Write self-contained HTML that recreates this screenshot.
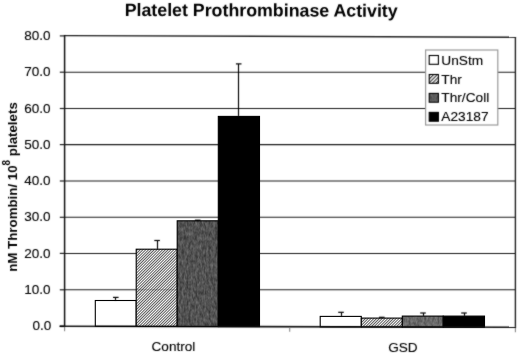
<!DOCTYPE html><html><head><meta charset="utf-8"><style>html,body{margin:0;padding:0;background:#fff;width:520px;height:353px;overflow:hidden}svg{display:block}text{font-family:"Liberation Sans",sans-serif;stroke:#000;stroke-width:0.12px}text.b{font-weight:bold;stroke:none}</style></head><body>
<svg width="520" height="353" viewBox="0 0 520 353">
<defs>
<pattern id="hatch" patternUnits="userSpaceOnUse" width="1.98" height="1.98" patternTransform="rotate(45)"><rect width="1.98" height="1.98" fill="#fff"/><rect width="0.72" height="1.98" fill="#1a1a1a"/></pattern>
<pattern id="hatchL" patternUnits="userSpaceOnUse" width="2.6" height="2.6" patternTransform="rotate(45)"><rect width="2.6" height="2.6" fill="#fff"/><rect width="1.2" height="2.6" fill="#444"/></pattern>
<filter id="nz1" x="0" y="0" width="1" height="1" color-interpolation-filters="sRGB"><feTurbulence type="fractalNoise" baseFrequency="0.45 0.22" numOctaves="2" seed="3" result="t"/><feColorMatrix in="t" type="matrix" values="0.32 0 0 0 0.16  0.32 0 0 0 0.16  0.32 0 0 0 0.16  0 0 0 0 1"/><feComposite in2="SourceGraphic" operator="in"/></filter>
<filter id="nz2" x="0" y="0" width="1" height="1" color-interpolation-filters="sRGB"><feTurbulence type="fractalNoise" baseFrequency="0.45 0.22" numOctaves="2" seed="5" result="t"/><feColorMatrix in="t" type="matrix" values="0.32 0 0 0 0.245  0.32 0 0 0 0.245  0.32 0 0 0 0.245  0 0 0 0 1"/><feComposite in2="SourceGraphic" operator="in"/></filter>
<filter id="nz3" x="0" y="0" width="1" height="1" color-interpolation-filters="sRGB"><feTurbulence type="fractalNoise" baseFrequency="0.45 0.22" numOctaves="2" seed="7" result="t"/><feColorMatrix in="t" type="matrix" values="0.32 0 0 0 0.2  0.32 0 0 0 0.2  0.32 0 0 0 0.2  0 0 0 0 1"/><feComposite in2="SourceGraphic" operator="in"/></filter>
<filter id="bl" x="0" y="0" width="520" height="353" filterUnits="userSpaceOnUse" color-interpolation-filters="sRGB"><feConvolveMatrix order="3" kernelMatrix="1 2 1 2 20 2 1 2 1" divisor="32" edgeMode="duplicate" preserveAlpha="false"/></filter>
</defs>
<rect width="520" height="353" fill="#fff"/>
<g filter="url(#bl)">
<rect width="520" height="353" fill="#fff"/>
<text class="b" transform="rotate(0.18 125 10)" x="261.2" y="15.9" font-size="17.8" text-anchor="middle" fill="#000">Platelet Prothrombinase Activity</text>
<line x1="64.6" y1="72.2" x2="515.4" y2="72.2" stroke="#1a1a1a" stroke-width="1.05"/>
<line x1="64.6" y1="108.5" x2="515.4" y2="108.5" stroke="#1a1a1a" stroke-width="1.05"/>
<line x1="64.6" y1="144.6" x2="515.4" y2="144.6" stroke="#1a1a1a" stroke-width="1.05"/>
<line x1="64.6" y1="181.0" x2="515.4" y2="181.0" stroke="#1a1a1a" stroke-width="1.05"/>
<line x1="64.6" y1="217.3" x2="515.4" y2="217.3" stroke="#1a1a1a" stroke-width="1.05"/>
<line x1="64.6" y1="253.4" x2="515.4" y2="253.4" stroke="#1a1a1a" stroke-width="1.05"/>
<line x1="64.6" y1="289.8" x2="515.4" y2="289.8" stroke="#1a1a1a" stroke-width="1.05"/>
<path d="M63.89999999999999 34.90L516.1 36.50L516.1 37.90L63.89999999999999 36.30Z" fill="#222"/>
<line x1="515.4" y1="37.2" x2="515.4" y2="327.3" stroke="#222" stroke-width="1.4"/>
<line x1="59.8" y1="35.9" x2="64.6" y2="35.9" stroke="#222" stroke-width="1.2"/>
<text x="50.6" y="40.0" font-size="13.5" text-anchor="end" fill="#000">80.0</text>
<line x1="59.8" y1="72.2" x2="64.6" y2="72.2" stroke="#222" stroke-width="1.2"/>
<text x="50.6" y="76.3" font-size="13.5" text-anchor="end" fill="#000">70.0</text>
<line x1="59.8" y1="108.5" x2="64.6" y2="108.5" stroke="#222" stroke-width="1.2"/>
<text x="50.6" y="112.6" font-size="13.5" text-anchor="end" fill="#000">60.0</text>
<line x1="59.8" y1="144.6" x2="64.6" y2="144.6" stroke="#222" stroke-width="1.2"/>
<text x="50.6" y="148.7" font-size="13.5" text-anchor="end" fill="#000">50.0</text>
<line x1="59.8" y1="181.0" x2="64.6" y2="181.0" stroke="#222" stroke-width="1.2"/>
<text x="50.6" y="185.1" font-size="13.5" text-anchor="end" fill="#000">40.0</text>
<line x1="59.8" y1="217.3" x2="64.6" y2="217.3" stroke="#222" stroke-width="1.2"/>
<text x="50.6" y="221.4" font-size="13.5" text-anchor="end" fill="#000">30.0</text>
<line x1="59.8" y1="253.4" x2="64.6" y2="253.4" stroke="#222" stroke-width="1.2"/>
<text x="50.6" y="257.5" font-size="13.5" text-anchor="end" fill="#000">20.0</text>
<line x1="59.8" y1="289.8" x2="64.6" y2="289.8" stroke="#222" stroke-width="1.2"/>
<text x="50.6" y="293.9" font-size="13.5" text-anchor="end" fill="#000">10.0</text>
<line x1="59.8" y1="326.2" x2="64.6" y2="326.2" stroke="#222" stroke-width="1.2"/>
<text x="51.4" y="330.3" font-size="13.5" text-anchor="end" fill="#000">0.0</text>
<text x="151.5" y="350.9" font-size="13.6" fill="#000">Control</text>
<text x="388.2" y="351.9" font-size="13.6" fill="#000">GSD</text>
<text class="b" transform="translate(17.1,187) rotate(-90)" font-size="13.3" text-anchor="middle" fill="#000">nM Thrombin/ 10<tspan font-size="10" dy="-7.2">8</tspan><tspan dy="7.2"> platelets</tspan></text>
</g>
<rect x="95.3" y="300.5" width="40.9" height="25.8" fill="#fff" stroke="#000" stroke-width="1.1"/>
<rect x="136.2" y="249.2" width="41.0" height="77.2" fill="url(#hatch)" stroke="#000" stroke-width="1.1"/>
<rect x="177.2" y="220.8" width="41.1" height="105.7" fill="#000" filter="url(#nz1)"/>
<rect x="177.2" y="220.8" width="41.1" height="105.7" fill="none" stroke="#000" stroke-width="1.1"/>
<rect x="218.3" y="116.4" width="41.2" height="210.2" fill="#000" stroke="#000" stroke-width="1.1"/>
<rect x="320.2" y="316.4" width="41.1" height="10.5" fill="#fff" stroke="#000" stroke-width="1.1"/>
<rect x="361.3" y="318.1" width="41.0" height="8.9" fill="url(#hatch)" stroke="#000" stroke-width="1.1"/>
<rect x="402.3" y="316.1" width="40.9" height="11.0" fill="#000" filter="url(#nz2)"/>
<rect x="402.3" y="316.1" width="40.9" height="11.0" fill="none" stroke="#000" stroke-width="1.1"/>
<rect x="443.2" y="316.1" width="41.3" height="11.1" fill="#000" stroke="#000" stroke-width="1.1"/>
<line x1="137" y1="289.8" x2="176.5" y2="289.8" stroke="#000" stroke-width="1" opacity="0.25"/>
<g filter="url(#bl)">
<line x1="115.5" y1="300.5" x2="115.5" y2="297.4" stroke="#000" stroke-width="1.15"/>
<line x1="113.0" y1="297.4" x2="118.6" y2="297.4" stroke="#000" stroke-width="1.2"/>
<line x1="157.5" y1="249.2" x2="157.5" y2="240.5" stroke="#000" stroke-width="1.15"/>
<line x1="154.29999999999998" y1="240.5" x2="159.9" y2="240.5" stroke="#000" stroke-width="1.2"/>
<line x1="197.5" y1="220.8" x2="197.5" y2="220.2" stroke="#000" stroke-width="1.15"/>
<line x1="194.89999999999998" y1="220.2" x2="200.5" y2="220.2" stroke="#000" stroke-width="1.2"/>
<line x1="238.5" y1="116.4" x2="238.5" y2="63.9" stroke="#000" stroke-width="1.15"/>
<line x1="235.89999999999998" y1="63.9" x2="241.5" y2="63.9" stroke="#000" stroke-width="1.2"/>
<line x1="341.5" y1="316.4" x2="341.5" y2="312.3" stroke="#000" stroke-width="1.15"/>
<line x1="338.2" y1="312.3" x2="343.8" y2="312.3" stroke="#000" stroke-width="1.2"/>
<line x1="381.5" y1="318.1" x2="381.5" y2="317.3" stroke="#000" stroke-width="1.15"/>
<line x1="379.0" y1="317.3" x2="384.6" y2="317.3" stroke="#000" stroke-width="1.2"/>
<line x1="423.5" y1="316.1" x2="423.5" y2="313.0" stroke="#000" stroke-width="1.15"/>
<line x1="420.2" y1="313.0" x2="425.8" y2="313.0" stroke="#000" stroke-width="1.2"/>
<line x1="464.5" y1="316.1" x2="464.5" y2="313.0" stroke="#000" stroke-width="1.15"/>
<line x1="461.2" y1="313.0" x2="466.8" y2="313.0" stroke="#000" stroke-width="1.2"/>
<line x1="64.6" y1="35.6" x2="64.6" y2="326.2" stroke="#111" stroke-width="1.5"/>
<path d="M59.599999999999994 325.40L516.1 326.50L516.1 328.10L59.599999999999994 327.00Z" fill="#111"/>
<line x1="64.6" y1="327.0" x2="64.6" y2="331.2" stroke="#888" stroke-width="1.1"/>
<line x1="289.7" y1="327.5492679680568" x2="289.7" y2="331.7492679680568" stroke="#888" stroke-width="1.1"/>
<line x1="515.4" y1="328.1" x2="515.4" y2="332.3" stroke="#888" stroke-width="1.1"/>
<rect x="425.6" y="50" width="72.2" height="75" fill="#fff" stroke="#9a9a9a" stroke-width="1.2"/>
<rect x="429.2" y="55.5" width="9.2" height="8.8" fill="#fff" stroke="#000" stroke-width="1.1"/>
<text x="441.3" y="64.5" font-size="13.7" fill="#000">UnStm</text>
<rect x="429.2" y="74.5" width="9.2" height="8.8" fill="url(#hatchL)" stroke="#000" stroke-width="1.1"/>
<text x="441.3" y="83.5" font-size="13.7" fill="#000">Thr</text>
<rect x="429.2" y="93.4" width="9.2" height="8.8" fill="#000" filter="url(#nz3)"/>
<rect x="429.2" y="93.4" width="9.2" height="8.8" fill="none" stroke="#000" stroke-width="1.1"/>
<text x="441.3" y="102.4" font-size="13.7" fill="#000">Thr/Coll</text>
<rect x="429.2" y="112.4" width="9.2" height="8.8" fill="#000" stroke="#000" stroke-width="1.1"/>
<text x="441.3" y="121.4" font-size="13.7" fill="#000">A23187</text>
</g>
</svg></body></html>
